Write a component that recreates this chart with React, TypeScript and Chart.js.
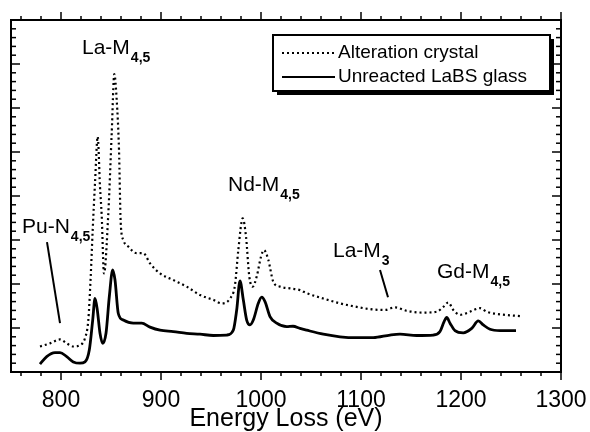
import React, { useEffect, useRef } from "react";
import { Chart, registerables } from "chart.js";

Chart.register(...registerables);

// ---- data (energy in eV, intensity in arbitrary units) ----
const crystalEnergy = [
  779, 789, 799, 805.7, 812.3, 819, 824, 827.3, 829.7, 831.7, 834, 836.7, 839, 840.7, 843,
  847.3, 850.7, 853.3, 855.7, 858, 859.7, 862.3, 867.3, 875.7, 882.3, 889, 899, 912.3, 925.7,
  939, 952.3, 960.7, 969, 974, 977.3, 981.7, 985, 988.3, 991.7, 995.7, 1000, 1003, 1007.3,
  1012.3, 1019, 1029, 1039, 1045.7, 1062.3, 1079, 1095.7, 1112.3, 1124, 1134, 1145.7, 1162.3,
  1175.7, 1182.3, 1187.3, 1192.3, 1199, 1209, 1219, 1225.7, 1235.7, 1259,
];
const crystalIntensity = [
  0.58, 0.65, 0.74, 0.65, 0.58, 0.61, 0.77, 1.18, 2.17, 3.23, 4.29, 5.35, 4.21, 3.56, 2.24,
  3.6, 5.42, 6.77, 6.18, 5.05, 3.4, 3.0, 2.85, 2.7, 2.7, 2.47, 2.24, 2.09, 1.94,
  1.75, 1.64, 1.56, 1.67, 1.98, 2.77, 3.49, 3.08, 2.17, 1.94, 2.17, 2.62, 2.77, 2.55,
  2.05, 1.94, 1.9, 1.86, 1.79, 1.67, 1.56, 1.48, 1.42, 1.41, 1.47, 1.39, 1.35,
  1.37, 1.48, 1.58, 1.41, 1.3, 1.37, 1.45, 1.37, 1.32, 1.27,
];

const glassEnergy = [
  779, 785.7, 794, 799, 805.7, 812.3, 819, 824, 828.3, 831.7, 834, 836.3, 839, 841.7, 845,
  848.3, 851.7, 854, 857.3, 862.3, 872.3, 880.7, 889, 899, 912.3, 925.7, 939, 952.3, 965.7,
  972.3, 975.7, 979, 982.3, 985.7, 989, 992.3, 997.3, 1000.7, 1004, 1009, 1015.7, 1025.7,
  1032, 1039, 1045.7, 1062.3, 1079, 1095.7, 1112.3, 1129, 1139, 1155.7, 1172.3, 1179, 1183,
  1185.7, 1189, 1194, 1202.3, 1210.7, 1217.3, 1222.3, 1229, 1239, 1255,
];
const glassIntensity = [
  0.18, 0.35, 0.44, 0.44, 0.35, 0.23, 0.2, 0.23, 0.5, 1.18, 1.67, 1.41, 0.88, 0.65, 0.88,
  1.71, 2.32, 2.09, 1.33, 1.18, 1.11, 1.11, 1.02, 0.95, 0.92, 0.88, 0.86, 0.83, 0.84,
  0.95, 1.41, 2.07, 1.64, 1.18, 1.07, 1.18, 1.56, 1.7, 1.6, 1.26, 1.11, 1.03,
  1.04, 0.99, 0.95, 0.86, 0.8, 0.78, 0.78, 0.84, 0.86, 0.83, 0.84, 0.92, 1.14,
  1.24, 1.11, 0.94, 0.89, 0.99, 1.16, 1.07, 0.97, 0.94, 0.94,
];

const seriesLabels = ["Alteration crystal", "Unreacted LaBS glass"];
const xTickValues = [800, 900, 1000, 1100, 1200, 1300];
const xTitle = "Energy Loss (eV)";
const xRange = [750, 1300];
const yRange = [0, 8];

const peakLabels = [
  { main: "La-M", sub: "4,5", x: 821, y: 7.36 },
  { main: "Nd-M", sub: "4,5", x: 967, y: 4.25 },
  { main: "Pu-N", sub: "4,5", x: 761, y: 3.3 },
  { main: "La-M", sub: "3", x: 1072, y: 2.75 },
  { main: "Gd-M", sub: "4,5", x: 1176, y: 2.27 },
];
const pointerLines = [
  { x1: 786, y1: 2.95, x2: 799, y2: 1.11 },
  { x1: 1119, y1: 2.32, x2: 1127, y2: 1.7 },
];

const FONT = '"Liberation Sans", Arial, Helvetica, sans-serif';
const DOT_DASH = [2, 3];

const decorPlugin = {
  id: "decor",
  afterDatasetsDraw(chart: any) {
    const { ctx, chartArea: a } = chart;
    const x = chart.scales.x;
    const y = chart.scales.y;
    const seg = (x1: number, y1: number, x2: number, y2: number) => {
      ctx.beginPath();
      ctx.moveTo(x1, y1);
      ctx.lineTo(x2, y2);
      ctx.stroke();
    };
    ctx.save();
    ctx.strokeStyle = "#000";
    ctx.fillStyle = "#000";
    ctx.setLineDash([]);

    // x ticks (outward, top & bottom)
    ctx.lineWidth = 1.5;
    for (let v = 760; v <= xRange[1] + 0.001; v += 20) {
      const px = x.getPixelForValue(v);
      const major = v % 100 === 0;
      const len = major ? 8 : 4;
      seg(px, a.bottom, px, a.bottom + len);
      seg(px, a.top, px, a.top - len);
    }
    // y ticks (inward, left & right)
    for (let i = 0; i <= 40; i++) {
      const v = i * 0.2;
      const py = y.getPixelForValue(v);
      const major = i % 5 === 0;
      const len = major ? 9 : 5;
      seg(a.left, py, a.left + len, py);
      seg(a.right, py, a.right - len, py);
    }
    // frame
    ctx.lineWidth = 2;
    ctx.strokeRect(a.left, a.top, a.right - a.left, a.bottom - a.top);

    // peak labels
    ctx.textAlign = "left";
    ctx.textBaseline = "middle";
    for (const p of peakLabels) {
      const px = x.getPixelForValue(p.x);
      const py = y.getPixelForValue(p.y);
      ctx.font = `21px ${FONT}`;
      ctx.fillText(p.main, px, py);
      const w = ctx.measureText(p.main).width;
      ctx.font = `bold 14px ${FONT}`;
      ctx.fillText(p.sub, px + w + 1, py + 10);
    }
    // pointer lines
    ctx.lineWidth = 2;
    for (const l of pointerLines) {
      seg(x.getPixelForValue(l.x1), y.getPixelForValue(l.y1), x.getPixelForValue(l.x2), y.getPixelForValue(l.y2));
    }

    // legend box
    const bw = 277;
    const bh = 56;
    const bx = a.right - 288;
    const by = a.top + 15;
    ctx.fillRect(bx + 4, by + 4, bw, bh);
    ctx.fillStyle = "#fff";
    ctx.fillRect(bx, by, bw, bh);
    ctx.lineWidth = 2;
    ctx.strokeRect(bx, by, bw, bh);
    ctx.fillStyle = "#000";
    chart.data.datasets.forEach((ds: any, i: number) => {
      const ly = by + 18 + i * 24;
      ctx.lineWidth = i === 0 ? 1.8 : 2.2;
      ctx.setLineDash(ds.borderDash || []);
      seg(bx + 9, ly, bx + 62, ly);
      ctx.setLineDash([]);
      ctx.font = `19px ${FONT}`;
      ctx.textBaseline = "middle";
      ctx.fillText(ds.label, bx + 65, ly);
    });
    ctx.restore();
  },
};

export default function App() {
  const ref = useRef<HTMLCanvasElement | null>(null);
  useEffect(() => {
    if (!ref.current) return;
    Chart.defaults.font.family = FONT;
    const chart = new Chart(ref.current, {
      type: "line",
      data: {
        datasets: [
          {
            label: seriesLabels[0],
            data: crystalEnergy.map((e, i) => ({ x: e, y: crystalIntensity[i] })),
            borderColor: "#000",
            borderWidth: 2.2,
            borderDash: DOT_DASH,
            pointRadius: 0,
            cubicInterpolationMode: "monotone",
            fill: false,
          },
          {
            label: seriesLabels[1],
            data: glassEnergy.map((e, i) => ({ x: e, y: glassIntensity[i] })),
            borderColor: "#000",
            borderWidth: 2.8,
            pointRadius: 0,
            cubicInterpolationMode: "monotone",
            fill: false,
          },
        ],
      },
      options: {
        animation: false,
        responsive: true,
        maintainAspectRatio: false,
        layout: { padding: { left: 11, top: 20, right: 29, bottom: 0 } },
        plugins: { legend: { display: false }, tooltip: { enabled: false } },
        scales: {
          x: {
            type: "linear",
            min: xRange[0],
            max: xRange[1],
            grid: { display: false, drawTicks: false },
            border: { display: false },
            afterBuildTicks: (s: any) => {
              s.ticks = xTickValues.map((v) => ({ value: v }));
            },
            afterFit: (s: any) => {
              s.height = 60;
              s.paddingLeft = 0;
              s.paddingRight = 0;
            },
            ticks: {
              color: "#000",
              font: { size: 23, family: FONT },
              padding: 15,
              maxRotation: 0,
              autoSkip: false,
              callback: (v: any) => String(v),
            },
            title: {
              display: true,
              text: xTitle,
              color: "#000",
              font: { size: 25, family: FONT, lineHeight: 1.0 },
              padding: { top: 0, bottom: 0 },
            },
          },
          y: {
            type: "linear",
            display: false,
            min: yRange[0],
            max: yRange[1],
          },
        },
      },
      plugins: [decorPlugin],
    });
    return () => chart.destroy();
  }, []);
  return (
    <div style={{ position: "fixed", left: 0, top: 0, width: 590, height: 432, background: "#fff" }}>
      <canvas ref={ref} />
    </div>
  );
}
